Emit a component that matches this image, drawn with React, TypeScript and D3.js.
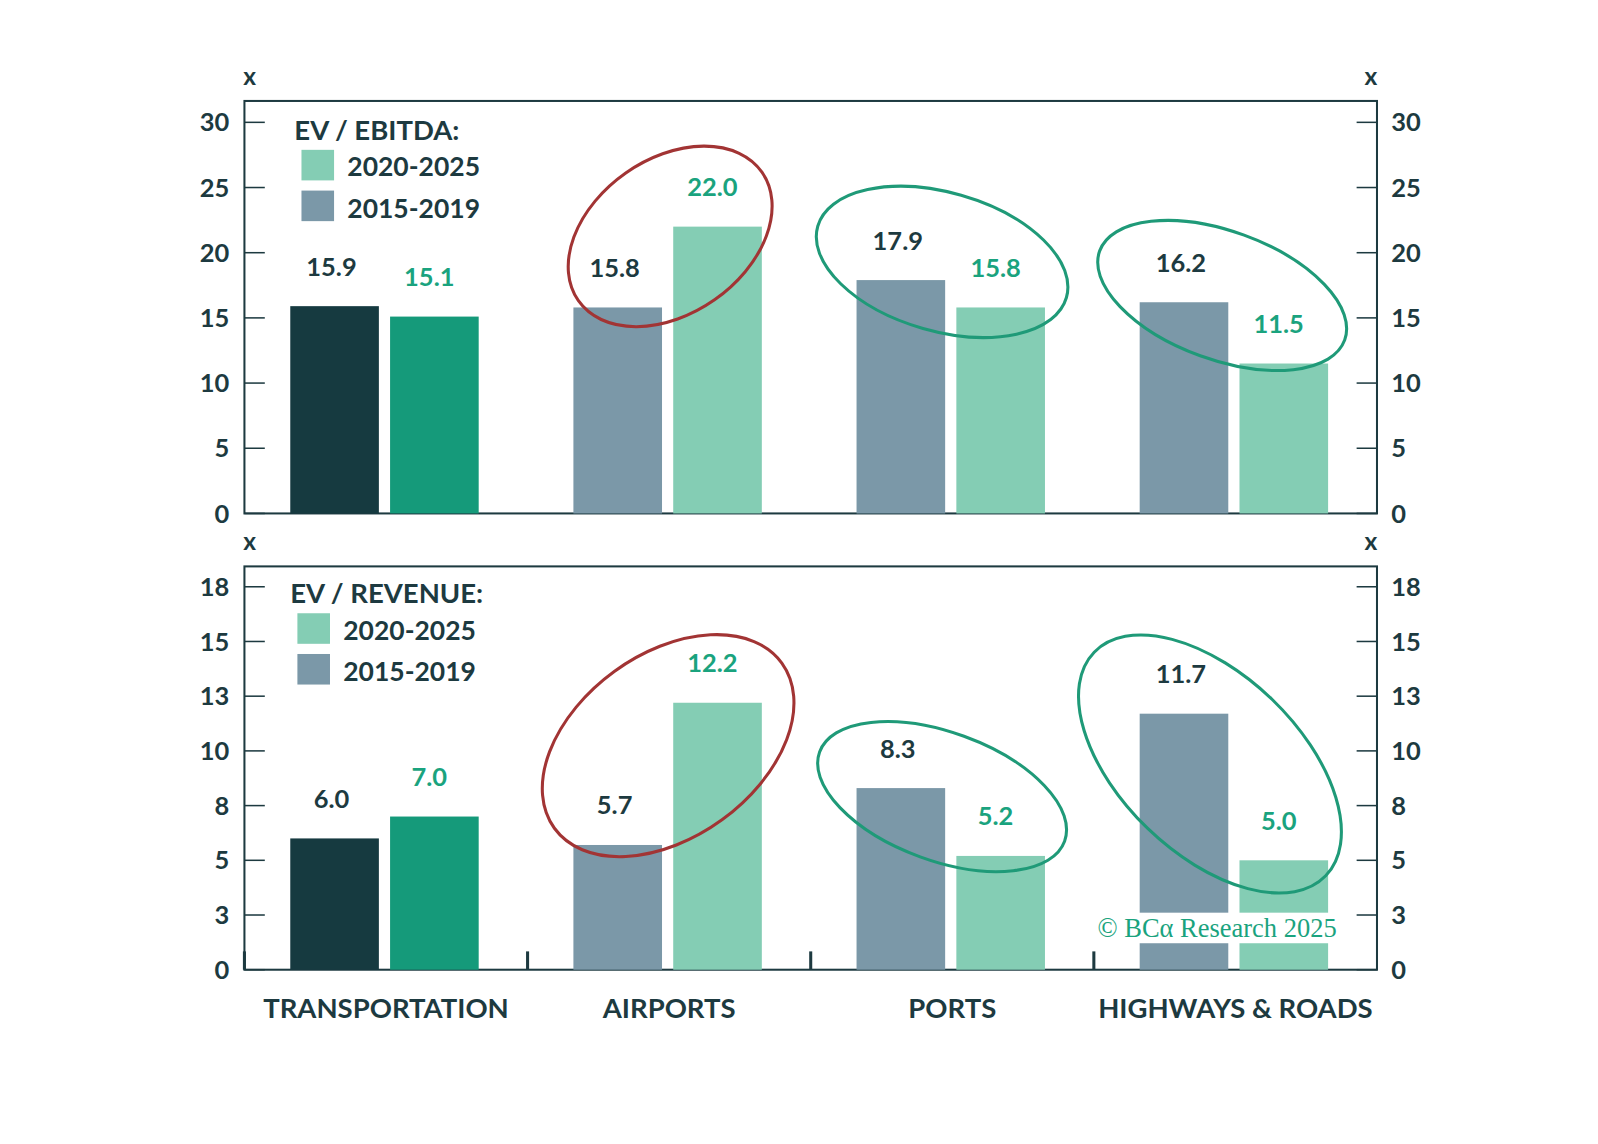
import React from "react";
import * as d3 from "d3";

const categories = ["TRANSPORTATION", "AIRPORTS", "PORTS", "HIGHWAYS & ROADS"];
const ebitda2015 = [15.9, 15.8, 17.9, 16.2];
const ebitda2020 = [15.1, 22.0, 15.8, 11.5];
const rev2015 = [6.0, 5.7, 8.3, 11.7];
const rev2020 = [7.0, 12.2, 5.2, 5.0];
const ebitdaTicks = [0, 5, 10, 15, 20, 25, 30];
const revTicks = [0, 2.5, 5, 7.5, 10, 12.5, 15, 17.5];

const DARK = "#163a40", DARKG = "#159a7a", GREY = "#7b98a8", MINT = "#84cdb4";
const TXT = "#1d3a40", GTXT = "#1aa37e", RED = "#a23434", ELG = "#1f9a78";
const FONT = "Lato, 'Open Sans', sans-serif";

const X0 = 240, X1 = 1352;
const band = d3.scaleBand<string>().domain(categories).range([X0, X1]);

type PanelProps = {
  top: number; bottom: number; y: d3.ScaleLinear<number, number>; ticks: number[];
  a: number[]; b: number[]; title: string; legX: number; legY: number;
  ellipses: { c: number; cx: number; cy: number; rx: number; ry: number; rot: number }[];
  groupTicks?: boolean;
};

function Panel(p: PanelProps) {
  const bw = 87;
  return (
    <g fontFamily={FONT} fontWeight={700}>
      <rect x={X0} y={p.top} width={X1 - X0} height={p.bottom - p.top} fill="none" stroke={TXT} strokeWidth={2} />
      <text x={245} y={p.top - 16} textAnchor="middle" fontSize={24} fill={TXT}>x</text>
      <text x={1346} y={p.top - 16} textAnchor="middle" fontSize={24} fill={TXT}>x</text>
      {p.ticks.map((t) => (
        <g key={t}>
          <line x1={X0} x2={X0 + 20} y1={p.y(t)} y2={p.y(t)} stroke={TXT} strokeWidth={1.5} />
          <line x1={X1 - 20} x2={X1} y1={p.y(t)} y2={p.y(t)} stroke={TXT} strokeWidth={1.5} />
          <text x={225} y={p.y(t) + 9} textAnchor="end" fontSize={25} fill={TXT}>{Math.round(t)}</text>
          <text x={1366} y={p.y(t) + 9} textAnchor="start" fontSize={25} fill={TXT}>{Math.round(t)}</text>
        </g>
      ))}
      {categories.map((c, i) => {
        const gx = band(c)!;
        const xa = gx + 45, xb = xa + bw + 11;
        const ca = i === 0 ? DARK : GREY, cb = i === 0 ? DARKG : MINT;
        return (
          <g key={c}>
            <rect x={xa} y={p.y(p.a[i])} width={bw} height={p.bottom - p.y(p.a[i])} fill={ca} />
            <rect x={xb} y={p.y(p.b[i])} width={bw} height={p.bottom - p.y(p.b[i])} fill={cb} />
            <text x={xa + bw / 2 - 3} y={p.y(p.a[i]) - 30} textAnchor="middle" fontSize={25} fill={TXT}>{p.a[i].toFixed(1)}</text>
            <text x={xb + bw / 2 - 5} y={p.y(p.b[i]) - 30} textAnchor="middle" fontSize={25} fill={GTXT}>{p.b[i].toFixed(1)}</text>
            {p.groupTicks && <line x1={gx} x2={gx} y1={p.bottom - 18} y2={p.bottom} stroke={TXT} strokeWidth={3} />}
          </g>
        );
      })}
      {p.ellipses.map((e, k) => (
        <ellipse key={k} cx={e.cx} cy={e.cy} rx={e.rx} ry={e.ry} transform={`rotate(${e.rot} ${e.cx} ${e.cy})`}
          fill="none" stroke={e.c ? RED : ELG} strokeWidth={3} />
      ))}
      <text x={p.legX} y={p.legY} fontSize={27} fill={TXT}>{p.title}</text>
      <rect x={p.legX + 7} y={p.legY + 10} width={32} height={30} fill={MINT} />
      <text x={p.legX + 52} y={p.legY + 36} fontSize={26} fill={TXT}>2020-2025</text>
      <rect x={p.legX + 7} y={p.legY + 50} width={32} height={30} fill={GREY} />
      <text x={p.legX + 52} y={p.legY + 77} fontSize={26} fill={TXT}>2015-2019</text>
    </g>
  );
}

export default function App() {
  const yTop = d3.scaleLinear().domain([0, 30]).range([504, 120]);
  const yBot = d3.scaleLinear().domain([0, 17.5]).range([952, 576]);
  return (
    <svg width={1598} height={1144} viewBox="0 0 1569 1123"
      style={{ display: "block", position: "absolute", left: 0, top: 0 }}>
      <rect width={1569} height={1123} fill="#fff" />
      <Panel top={99} bottom={504} y={yTop} ticks={ebitdaTicks} a={ebitda2015} b={ebitda2020}
        title="EV / EBITDA:" legX={289} legY={137}
        ellipses={[
          { c: 1, cx: 658, cy: 232, rx: 110, ry: 76, rot: -35 },
          { c: 0, cx: 925, cy: 257, rx: 127, ry: 68, rot: 16 },
          { c: 0, cx: 1200, cy: 290, rx: 128, ry: 63, rot: 20 },
        ]} />
      <Panel top={556} bottom={952} y={yBot} ticks={revTicks} a={rev2015} b={rev2020}
        title="EV / REVENUE:" legX={285} legY={592} groupTicks
        ellipses={[
          { c: 1, cx: 656, cy: 732, rx: 138, ry: 90, rot: -36 },
          { c: 0, cx: 925, cy: 782, rx: 128, ry: 63, rot: 20 },
          { c: 0, cx: 1188, cy: 750, rx: 158, ry: 88, rot: 44 },
        ]} />
      <rect x={1062} y={896} width={266} height={30} fill="#fff" />
      <text x={1195} y={920} textAnchor="middle" fontFamily="'Liberation Serif', serif" fontSize={26} fill={GTXT}>© BCα Research 2025</text>
      {categories.map((c) => (
        <text key={c} x={band(c)! + band.bandwidth() / 2} y={999} textAnchor="middle" fontFamily={FONT}
          fontWeight={700} fontSize={27} fill={TXT}>{c}</text>
      ))}
    </svg>
  );
}
